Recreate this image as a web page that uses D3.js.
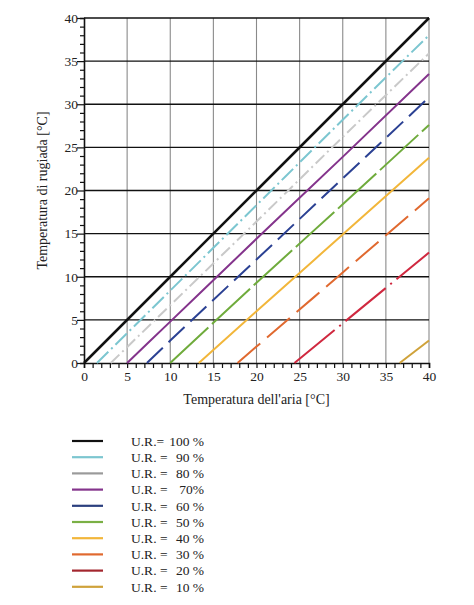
<!DOCTYPE html>
<html>
<head>
<meta charset="utf-8">
<script src="https://cdn.jsdelivr.net/npm/d3@7"></script>
<style>
  body { margin: 0; background: #fff; }
  text { font-family: "Liberation Serif", "DejaVu Serif", serif; fill: #222; }
</style>
</head>
<body>
<svg class="chart" width="474" height="605"></svg>
<script>
// relative humidity levels and their look
var rhLevels = [100, 90, 80, 70, 60, 50, 40, 30, 20, 10]
var rhColors = ["#111111", "#7cc6d0", "#c9c9c9", "#84348c", "#2b4193", "#6fab3c", "#f2b63a", "#e0692f", "#d0283f", "#cfa23a"]
var legendColors = ["#111111", "#7cc6d0", "#9a9a9a", "#84348c", "#2b3f7e", "#7ab045", "#f2b63a", "#e0692f", "#a3262e", "#cfa23a"]
var legendLabels = ["100 %", "90 %", "80 %", "70%", "60 %", "50 %", "40 %", "30 %", "20 %", "10 %"]

// air temperature where dew point = 0, then dew point at 10, 20, 30, 40 °C
var tZero = [0, 1.5, 3.1, 5.0, 7.3, 10.0, 13.3, 17.8, 24.4, 36.6]
var td10  = [10, 8.4, 6.7, 4.8, 2.6, null, null, null, null, null]
var td20  = [20, 18.3, 16.4, 14.4, 12.0, 9.3, 6.0, 1.9, null, null]
var td30  = [30, 28.2, 26.2, 23.9, 21.4, 18.4, 14.9, 10.5, 4.6, null]
var td40  = [40, 38.0, 35.9, 33.5, 30.8, 27.6, 23.8, 19.1, 12.8, 2.6]

var dashes = [null, "16,4,2,4", "12,4,2,4", null, "22,8", "52,5", null, "30,9", "52,6,2,6", null]

var xTicks = [0, 5, 10, 15, 20, 25, 30, 35, 40]
var yTicks = [0, 5, 10, 15, 20, 25, 30, 35, 40]

var margin = {top: 18, left: 84},
    width = 345,
    height = 345

var svg = d3.select(".chart")

var x = d3.scaleLinear().domain([0, 40]).range([margin.left, margin.left + width])
var y = d3.scaleLinear().domain([0, 40]).range([margin.top + height, margin.top])

// grid: vertical gray, horizontal black
svg.append("g").selectAll("line")
    .data(xTicks.slice(1))
  .enter().append("line")
    .attr("x1", function(d) { return x(d) }).attr("x2", function(d) { return x(d) })
    .attr("y1", y(0)).attr("y2", y(40))
    .attr("stroke", "#8a8a8a").attr("stroke-width", 1.1)

svg.append("g").selectAll("line")
    .data(yTicks.slice(1))
  .enter().append("line")
    .attr("x1", x(0)).attr("x2", x(40))
    .attr("y1", function(d) { return y(d) }).attr("y2", function(d) { return y(d) })
    .attr("stroke", "#111").attr("stroke-width", 1.4)

// axes with minor ticks
var xAxis = d3.axisBottom(x).tickValues(d3.range(0, 41)).tickSize(5)
    .tickFormat(function(d) { return d % 5 === 0 ? d : "" })
var gx = svg.append("g").attr("transform", "translate(0," + y(0) + ")").call(xAxis)
gx.select(".domain").attr("stroke", "#111").attr("stroke-width", 1.6)
gx.selectAll(".tick line").attr("stroke", "#111").attr("stroke-width", 1.2)
gx.selectAll(".tick text").attr("font-size", 13.5).attr("font-family", "Liberation Serif").attr("dy", "0.75em")

var yAxis = d3.axisLeft(y).tickValues(d3.range(0, 41)).tickSize(4)
    .tickFormat(function(d) { return d % 5 === 0 ? d : "" })
var gy = svg.append("g").attr("transform", "translate(" + x(0) + ",0)").call(yAxis)
gy.select(".domain").attr("stroke", "#111").attr("stroke-width", 1.6)
gy.selectAll(".tick line").attr("stroke", "#111").attr("stroke-width", 1.2)
  .attr("x2", function(d) { return d % 5 === 0 ? -7 : -4 })
gy.selectAll(".tick text").attr("font-size", 13.5).attr("font-family", "Liberation Serif").attr("x", -6)

// dew point lines
var line = d3.line()
    .x(function(d) { return x(d[0]) })
    .y(function(d) { return y(d[1]) })
    .curve(d3.curveMonotoneX)

var series = rhLevels.map(function(rh, i) {
  var pts = [[tZero[i], 0]]
  ;[[10, td10], [20, td20], [30, td30], [40, td40]].forEach(function(p) {
    if (p[1][i] !== null && p[0] > tZero[i]) pts.push([p[0], p[1][i]])
  })
  return pts
})

svg.append("g").selectAll("path")
    .data(series)
  .enter().append("path")
    .attr("d", line)
    .attr("fill", "none")
    .attr("stroke", function(d, i) { return rhColors[i] })
    .attr("stroke-width", function(d, i) { return i === 0 ? 2.5 : 2 })
    .attr("stroke-dasharray", function(d, i) { return dashes[i] })

// axis titles
svg.append("text")
    .attr("x", x(20)).attr("y", 404)
    .attr("text-anchor", "middle").attr("font-size", 14)
    .text("Temperatura dell'aria [°C]")

svg.append("text")
    .attr("transform", "translate(47," + y(20) + ") rotate(-90)")
    .attr("text-anchor", "middle").attr("font-size", 14)
    .text("Temperatura di rugiada [°C]")

// legend
var leg = svg.append("g").selectAll("g")
    .data(rhLevels)
  .enter().append("g")
    .attr("transform", function(d, i) { return "translate(0," + (441 + i * 16.2) + ")" })

leg.append("line")
    .attr("x1", 72).attr("x2", 103)
    .attr("stroke", function(d, i) { return legendColors[i] })
    .attr("stroke-width", 2.2)

leg.append("text")
    .attr("x", 131).attr("dy", "0.35em").attr("font-size", 13.5)
    .text(function(d) { return d === 100 ? "U.R.=" : "U.R. =" })

leg.append("text")
    .attr("x", 204).attr("dy", "0.35em").attr("font-size", 13.5)
    .attr("text-anchor", "end")
    .text(function(d, i) { return legendLabels[i] })
</script>
</body>
</html>
